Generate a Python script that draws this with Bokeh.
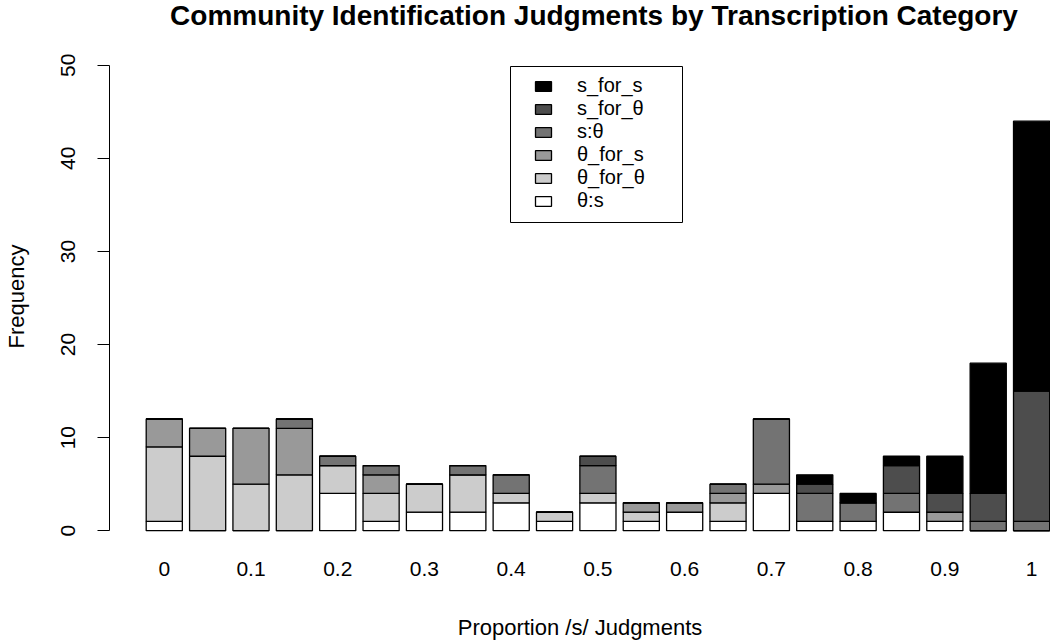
from bokeh.plotting import figure
from bokeh.models import (Range1d, FixedTicker, Legend, LegendItem, ColumnDataSource,
                          BoxAnnotation, Label, LinearAxis)
from bokeh.embed import file_html
from bokeh.resources import INLINE

# ---- data ----
proportions = [0.0, 0.05, 0.1, 0.15, 0.2, 0.25, 0.3, 0.35, 0.4, 0.45, 0.5,
               0.55, 0.6, 0.65, 0.7, 0.75, 0.8, 0.85, 0.9, 0.95, 1.0]
theta_s         = [1, 0, 0, 0, 4, 1, 2, 2, 3, 1, 3, 1, 2, 1, 4, 1, 1, 2, 1, 0, 0]
theta_for_theta = [8, 8, 5, 6, 3, 3, 3, 4, 1, 1, 1, 1, 0, 2, 0, 0, 0, 0, 0, 0, 0]
theta_for_s     = [3, 3, 6, 5, 0, 2, 0, 0, 0, 0, 0, 1, 1, 1, 1, 0, 0, 0, 1, 0, 0]
s_theta         = [0, 0, 0, 1, 1, 1, 0, 1, 2, 0, 3, 0, 0, 1, 7, 3, 2, 2, 0, 1, 1]
s_for_theta     = [0, 0, 0, 0, 0, 0, 0, 0, 0, 0, 1, 0, 0, 0, 0, 1, 0, 3, 2, 3, 14]
s_for_s         = [0, 0, 0, 0, 0, 0, 0, 0, 0, 0, 0, 0, 0, 0, 0, 1, 1, 1, 4, 14, 29]

series_names = ["θ:s", "θ_for_θ", "θ_for_s", "s:θ", "s_for_θ", "s_for_s"]  # bottom -> top
series_values = [theta_s, theta_for_theta, theta_for_s, s_theta, s_for_theta, s_for_s]
colors = ["#ffffff", "#cccccc", "#999999", "#737373", "#4d4d4d", "#000000"]

x_tick_values = [0.0, 0.1, 0.2, 0.3, 0.4, 0.5, 0.6, 0.7, 0.8, 0.9, 1.0]
x_tick_labels = ["0", "0.1", "0.2", "0.3", "0.4", "0.5", "0.6", "0.7", "0.8", "0.9", "1"]
y_ticks = [0, 10, 20, 30, 40, 50]

title_text = "Community Identification Judgments by Transcription Category"
x_label = "Proportion /s/ Judgments"
y_label = "Frequency"

FONT = "Liberation Sans"

data = {"x": proportions}
for name, vals in zip(series_names, series_values):
    data[name] = vals
src = ColumnDataSource(data)

# ---- layout ----
W, H = 1050, 642
left_b, top_b, bottom_b = 105, 0, 48
px_per_x = 871.0
x0_canvas = 160.0
x_start = -(x0_canvas - left_b) / px_per_x
x_end = x_start + (W - left_b) / px_per_x
px_per_y = 9.34
y0_canvas = 532.0
frame_bottom = H - bottom_b
y_start = -(frame_bottom - y0_canvas) / px_per_y
y_end = (y0_canvas - top_b) / px_per_y

p = figure(width=W, height=H, output_backend="svg", toolbar_location=None,
           x_range=Range1d(x_start, x_end), y_range=Range1d(y_start, y_end),
           min_border_left=left_b, min_border_right=0, min_border_top=top_b,
           min_border_bottom=bottom_b)
p.outline_line_color = None
p.xgrid.visible = False
p.ygrid.visible = False
p.background_fill_color = "white"
p.border_fill_color = "white"

renderers = p.vbar_stack(series_names, x="x", width=0.05 / 1.2, source=src,
                         fill_color=colors, line_color="black", line_width=1.3)

# title at the very top of the canvas, centred over the R plot region
title = Label(x=593.5, y=15, x_units="canvas", y_units="canvas", text=title_text,
              text_align="center", text_baseline="alphabetic",
              text_font=FONT, text_font_size="28px", text_font_style="bold",
              text_color="black")
p.add_layout(title)

# x axis: tick labels only, anchored at y = 0
xa = p.xaxis[0]
xa.fixed_location = 0
xa.ticker = FixedTicker(ticks=x_tick_values)
xa.major_label_overrides = dict(zip(x_tick_values, x_tick_labels))
xa.axis_line_color = None
xa.major_tick_line_color = None
xa.minor_tick_line_color = None
xa.major_tick_out = 0
xa.major_tick_in = 0
xa.major_label_standoff = 31
xa.major_label_text_font = FONT
xa.major_label_text_font_size = "21px"
xa.major_label_text_color = "black"
xa.axis_label = None

# second bottom axis carrying only the x-axis title
xt = LinearAxis(ticker=FixedTicker(ticks=[]), axis_line_color=None,
                major_tick_line_color=None, minor_tick_line_color=None,
                major_tick_out=0, major_tick_in=0, minor_tick_out=0,
                major_label_standoff=0,
                axis_label=x_label, axis_label_standoff=22,
                axis_label_text_font=FONT, axis_label_text_font_size="22px",
                axis_label_text_font_style="normal", axis_label_text_color="black")
p.add_layout(xt, "below")

# y axis
ya = p.yaxis[0]
ya.ticker = FixedTicker(ticks=y_ticks)
ya.bounds = (0, 50)
ya.axis_line_color = "black"
ya.axis_line_width = 1
ya.major_tick_line_color = "black"
ya.major_tick_out = 12
ya.major_tick_in = 0
ya.minor_tick_line_color = None
ya.major_label_orientation = "vertical"
ya.major_label_standoff = 22
ya.major_label_text_font = FONT
ya.major_label_text_font_size = "21px"
ya.major_label_text_color = "black"
ya.axis_label = y_label
ya.axis_label_text_font = FONT
ya.axis_label_text_font_size = "22px"
ya.axis_label_text_font_style = "normal"
ya.axis_label_text_color = "black"
ya.axis_label_standoff = 30

# legend (top -> bottom: s_for_s ... θ:s), one row per Legend for exact row pitch
row_pitch = 23.0
first_row_center = 87.0
row_half = 12.0
for i, (n, r) in enumerate(reversed(list(zip(series_names, renderers)))):
    center = first_row_center + i * row_pitch
    lg = Legend(items=[LegendItem(label=n, renderers=[r])],
                location=(424, frame_bottom - (center + row_half)),
                orientation="vertical",
                border_line_color=None,
                background_fill_alpha=0,
                padding=0, spacing=0, margin=0,
                glyph_width=20, glyph_height=12, label_height=20,
                label_standoff=24,
                label_text_font=FONT, label_text_font_size="20px",
                label_text_color="black", label_text_baseline="middle")
    p.add_layout(lg)

legend_frame = BoxAnnotation(left=510, right=682, top=66, bottom=222,
                             left_units="canvas", right_units="canvas",
                             top_units="canvas", bottom_units="canvas",
                             fill_alpha=0, line_color="black", line_width=1,
                             line_alpha=1)
p.add_layout(legend_frame)

open("out.html", "w").write(file_html(p, INLINE))
